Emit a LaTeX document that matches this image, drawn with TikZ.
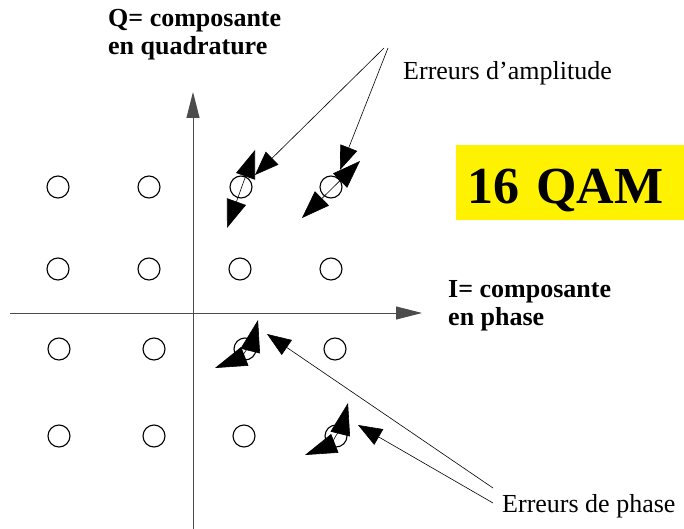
\documentclass[tikz,border=0pt]{standalone}
\usepackage{fontspec}
\setmainfont{Liberation Serif}
\usepackage{tikz}
\usetikzlibrary{arrows.meta,calc}

\begin{document}
\begin{tikzpicture}[
  x=1pt, y=-1pt,
  axis/.style={draw=black!70, line width=1pt, -{Triangle[length=26pt, width=13pt]}},
  pt/.style={circle, draw, line width=1.1pt, minimum size=22pt, inner sep=0pt},
  err/.style={{Triangle[length=28pt, width=20pt]}-{Triangle[length=28pt, width=20pt]}, line width=0.6pt},
  errc/.style={{Triangle[length=32pt, width=20pt]}-{Triangle[length=32pt, width=20pt]}, line width=0.6pt},
  ptr/.style={-{Triangle[length=24pt, width=18pt]}, line width=0.6pt},
  lbl/.style={font=\fontsize{26}{28}\selectfont, inner sep=0pt, anchor=base west},
  axlbl/.style={font=\fontsize{26}{28}\selectfont\bfseries, inner sep=0pt, align=left, anchor=north west},
  qam/.style={fill=yellow, font=\fontsize{52}{56}\selectfont\bfseries, anchor=north west, inner xsep=11pt, inner ysep=17pt, text width=206pt, text height=41pt, text depth=0pt}
]
\useasboundingbox (0,0) rectangle (684,529);

\coordinate (iL) at (10,313);
\coordinate (iR) at (422,313);
\coordinate (qB) at (193,529);
\coordinate (qT) at (193,92);
\draw[axis] (iL) -- (iR);
\draw[axis] (qB) -- (qT);

\foreach \x/\y/\n in {58/187/a1, 149/187/a2, 241/187/a3, 331/187/a4,
                      58/269/b1, 149/269/b2, 240/269/b3, 331/269/b4,
                      59/349/c1, 154/349/c2, 245/349/c3, 335/349/c4,
                      59/436/d1, 154/436/d2, 244/436/d3, 336/436/d4}
  \node[pt] (\n) at (\x,\y) {};

\node[axlbl] (qlbl) at (108,9.5) {Q= composante\\en quadrature};
\node[axlbl] (ilbl) at (448,280.5) {I= composante\\en phase};
\node[lbl] (amp) at (403,80) {Erreurs d’amplitude};
\node[lbl] (pha) at (502,512) {Erreurs de phase};
\node[qam] (qam) at (456,145) {16 QAM};

\coordinate (a3s) at (227,228);
\coordinate (a3e) at (255,150);
\coordinate (a4s) at (302,218);
\coordinate (a4e) at (360,161);
\coordinate (c3s) at (215,368);
\coordinate (c3e) at (258,320);
\coordinate (d4s) at (305,455);
\coordinate (d4e) at (348,403);
\draw[err] (a3s) -- (a3e);
\draw[err] (a4s) -- (a4e);
\draw[errc] (c3s) .. controls (238,359) and (253,340) .. (c3e);
\draw[errc] (d4s) .. controls (328,446) and (343,423) .. (d4e);

\coordinate (ampA) at (384,48);
\coordinate (ampB) at (388,48);
\coordinate (phaA) at (493,488);
\coordinate (phaB) at (493,503);
\coordinate (a3p) at (255,175);
\coordinate (a4p) at (340,170);
\coordinate (c3p) at (267,334);
\coordinate (d4p) at (358,425);
\draw[ptr] (ampA) -- (a3p);
\draw[ptr] (ampB) -- (a4p);
\draw[ptr] (phaA) -- (c3p);
\draw[ptr] (phaB) -- (d4p);
\end{tikzpicture}
\end{document}
